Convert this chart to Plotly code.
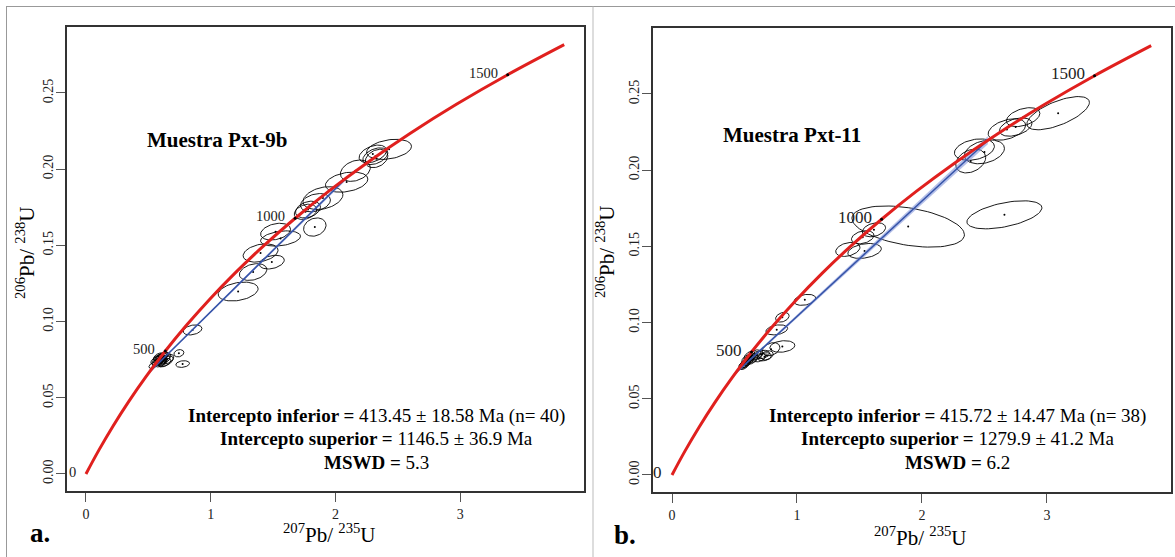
import numpy as np
import plotly.graph_objects as go

W, H = 1175, 557
FONT = "Liberation Serif"

# ---------------- data ----------------
# Concordia curve (age in Ma, 207Pb/235U, 206Pb/238U)
conc_age = [0, 100, 200, 300, 400, 500, 600, 700, 800, 900, 1000, 1100, 1200, 1300, 1400, 1500, 1600]
conc_x = [0.0, 0.1035, 0.2177, 0.3437, 0.4828, 0.6363, 0.8056, 0.9925, 1.1987, 1.4263,
          1.6774, 1.9545, 2.2603, 2.5978, 2.9701, 3.3810, 3.8344]
conc_y = [0.0, 0.01563, 0.03151, 0.04764, 0.06402, 0.08065, 0.09754, 0.11470, 0.13213, 0.14983,
          0.16780, 0.18606, 0.20460, 0.22343, 0.24256, 0.26199, 0.28172]
label_ages = [0, 500, 1000, 1500]

# Discordia intercepts (lower, upper)
a_int_x = [0.5026, 2.0930]
a_int_y = [0.06624, 0.19465]
a_band = [0.0004, 0.0012]
b_int_x = [0.5059, 2.5272]
b_int_y = [0.06661, 0.21963]
b_band = [0.0006, 0.0026]

# Panel a (Pxt-9b) ellipses: centre x, centre y, half-width x, half-height y, rho
a_cx = [2.43, 2.30, 2.32, 2.33, 2.16, 2.09, 1.90, 1.84, 1.78, 1.76,
        1.835, 1.52, 1.56, 1.40, 1.49, 1.34, 1.22, 0.855, 0.745, 0.775,
        0.58, 0.60, 0.62, 0.59, 0.61, 0.57, 0.63, 0.60, 0.64, 0.56,
        0.62, 0.58, 0.65, 0.595, 0.605, 0.615, 0.585, 0.54, 0.63, 0.61]
a_cy = [0.2130, 0.2100, 0.2085, 0.2070, 0.1990, 0.1915, 0.1810, 0.1780, 0.1735, 0.1720,
        0.1620, 0.1590, 0.1545, 0.1450, 0.1390, 0.1325, 0.1197, 0.0945, 0.0792, 0.0721,
        0.0755, 0.0760, 0.0748, 0.0740, 0.0770, 0.0735, 0.0765, 0.0728, 0.0740, 0.0745,
        0.0775, 0.0768, 0.0752, 0.0750, 0.0745, 0.0758, 0.0762, 0.0714, 0.0730, 0.0735]
a_sx = [0.18, 0.11, 0.10, 0.09, 0.12, 0.17, 0.16, 0.12, 0.10, 0.09,
        0.09, 0.12, 0.16, 0.14, 0.10, 0.11, 0.16, 0.075, 0.04, 0.055,
        0.045, 0.050, 0.055, 0.040, 0.045, 0.040, 0.050, 0.045, 0.060, 0.040,
        0.040, 0.040, 0.055, 0.035, 0.035, 0.035, 0.035, 0.035, 0.050, 0.040]
a_sy = [0.0066, 0.0058, 0.0055, 0.0060, 0.0070, 0.0066, 0.0075, 0.0060, 0.0055, 0.0050,
        0.0060, 0.0055, 0.0050, 0.0060, 0.0045, 0.0055, 0.0062, 0.0033, 0.0024, 0.0022,
        0.0030, 0.0032, 0.0030, 0.0027, 0.0028, 0.0025, 0.0030, 0.0026, 0.0034, 0.0026,
        0.0026, 0.0026, 0.0032, 0.0022, 0.0022, 0.0022, 0.0022, 0.0022, 0.0028, 0.0024]
a_rho = [0.3, 0.4, 0.4, 0.3, 0.3, 0.3, 0.3, 0.3, 0.3, 0.3,
         0.2, 0.3, 0.3, 0.3, 0.3, 0.3, 0.3, 0.3, 0.2, 0.2,
         0.5, 0.5, 0.5, 0.5, 0.5, 0.5, 0.5, 0.5, 0.5, 0.5,
         0.5, 0.5, 0.5, 0.5, 0.5, 0.5, 0.5, 0.5, 0.5, 0.5]

# Panel b (Pxt-11) ellipses
b_cx = [3.09, 2.66, 1.89, 2.81, 2.75, 2.68, 2.42, 2.50, 2.39, 1.616,
        1.526, 1.407, 1.541, 1.063, 0.883, 0.838, 0.883, 0.793, 0.72,
        0.74, 0.70, 0.68, 0.66, 0.62, 0.60, 0.61, 0.59, 0.58, 0.62,
        0.605, 0.595, 0.615, 0.63, 0.585, 0.64, 0.57, 0.65, 0.76]
b_cy = [0.2374, 0.1707, 0.1630, 0.2348, 0.2283, 0.2267, 0.2135, 0.2120, 0.2060, 0.1609,
        0.1560, 0.1480, 0.1470, 0.1149, 0.1035, 0.0952, 0.0843, 0.0825, 0.0790,
        0.0775, 0.0770, 0.0785, 0.0790, 0.0780, 0.0760, 0.0745, 0.0735, 0.0725, 0.0760,
        0.0752, 0.0742, 0.0768, 0.0772, 0.0730, 0.0755, 0.0722, 0.0765, 0.0785]
b_sx = [0.25, 0.30, 0.45, 0.134, 0.13, 0.15, 0.16, 0.16, 0.12, 0.093,
        0.09, 0.097, 0.134, 0.087, 0.054, 0.087, 0.10, 0.07, 0.06,
        0.055, 0.05, 0.045, 0.05, 0.045, 0.042, 0.042, 0.042, 0.042, 0.036,
        0.036, 0.036, 0.036, 0.04, 0.034, 0.045, 0.036, 0.04, 0.05]
b_sy = [0.0109, 0.0092, 0.0135, 0.0062, 0.0060, 0.0070, 0.0070, 0.0078, 0.0078, 0.0046,
        0.0043, 0.0046, 0.0049, 0.0036, 0.0032, 0.0033, 0.0038, 0.0043, 0.0028,
        0.0027, 0.0028, 0.0028, 0.0031, 0.0033, 0.0031, 0.0029, 0.0031, 0.0033, 0.0025,
        0.0025, 0.0025, 0.0025, 0.0027, 0.0025, 0.0028, 0.0028, 0.0027, 0.0030]
b_rho = [0.65, 0.5, -0.4, 0.4, 0.4, 0.4, 0.3, 0.3, 0.3, 0.3,
         0.3, 0.3, 0.3, 0.3, 0.3, 0.3, 0.2, 0.3, 0.3,
         0.3, 0.4, 0.4, 0.5, 0.5, 0.5, 0.5, 0.5, 0.5, 0.5,
         0.5, 0.5, 0.5, 0.5, 0.5, 0.5, 0.5, 0.5, 0.3]

a_title = "Muestra Pxt-9b"
b_title = "Muestra Pxt-11"
a_stats = ["<b>Intercepto inferior =</b> 413.45 ± 18.58 Ma (n= 40)",
           "<b>Intercepto superior =</b> 1146.5 ± 36.9 Ma",
           "<b>MSWD =</b> 5.3"]
b_stats = ["<b>Intercepto inferior =</b> 415.72 ± 14.47 Ma (n= 38)",
           "<b>Intercepto superior =</b> 1279.9 ± 41.2 Ma",
           "<b>MSWD =</b> 6.2"]

x_ticks = [0, 1, 2, 3]
y_ticks = [0.0, 0.05, 0.10, 0.15, 0.20, 0.25]
y_ticktext = ["0.00", "0.05", "0.10", "0.15", "0.20", "0.25"]
X_RANGE = [-0.152, 3.993]
Y_RANGE = [-0.0112, 0.2933]


def ellipse_paths(cx, cy, sx, sy, rho):
    t = np.linspace(0, 2 * np.pi, 73)
    xs, ys = [], []
    for x0, y0, ax, ay, r in zip(cx, cy, sx, sy, rho):
        xs += list(x0 + ax * np.cos(t)) + [None]
        ys += list(y0 + ay * (r * np.cos(t) + np.sqrt(1 - r * r) * np.sin(t))) + [None]
    return xs, ys


fig = go.Figure()


def add_panel(xa, ya, cx, cy, sx, sy, rho, ix, iy, band):
    xs, ys = ellipse_paths(cx, cy, sx, sy, rho)
    fig.add_trace(go.Scatter(x=xs, y=ys, mode="lines", line=dict(color="black", width=0.9),
                             xaxis=xa, yaxis=ya, hoverinfo="skip", showlegend=False))
    fig.add_trace(go.Scatter(x=cx, y=cy, mode="markers", marker=dict(color="black", size=2),
                             xaxis=xa, yaxis=ya, hoverinfo="skip", showlegend=False))
    # discordia error band
    bx = [ix[0], ix[1], ix[1], ix[0], ix[0]]
    by = [iy[0] - band[0], iy[1] - band[1], iy[1] + band[1], iy[0] + band[0], iy[0] - band[0]]
    fig.add_trace(go.Scatter(x=bx, y=by, mode="lines", fill="toself", fillcolor="rgba(120,140,215,0.55)",
                             line=dict(width=0), xaxis=xa, yaxis=ya, hoverinfo="skip", showlegend=False))
    fig.add_trace(go.Scatter(x=ix, y=iy, mode="lines", line=dict(color="#3553a8", width=1.5),
                             xaxis=xa, yaxis=ya, hoverinfo="skip", showlegend=False))
    fig.add_trace(go.Scatter(x=conc_x, y=conc_y, mode="lines", line=dict(color="#e0201e", width=3, shape="spline"),
                             xaxis=xa, yaxis=ya, hoverinfo="skip", showlegend=False))
    idx = [conc_age.index(a) for a in label_ages]
    fig.add_trace(go.Scatter(x=[conc_x[i] for i in idx[1:]], y=[conc_y[i] for i in idx[1:]], mode="markers",
                             marker=dict(color="black", size=3), xaxis=xa, yaxis=ya,
                             hoverinfo="skip", showlegend=False))
    return idx


idx = add_panel("x", "y", a_cx, a_cy, a_sx, a_sy, a_rho, a_int_x, a_int_y, a_band)
add_panel("x2", "y2", b_cx, b_cy, b_sx, b_sy, b_rho, b_int_x, b_int_y, b_band)

ann = []
# concordia age labels
for xr, yr, fs in (("x", "y", 14.5), ("x2", "y2", 17)):
    for i, a in zip(idx, label_ages):
        ann.append(dict(x=conc_x[i], y=conc_y[i], xref=xr, yref=yr, text=str(a), showarrow=False,
                        xanchor="right", yanchor="middle", xshift=-8, yshift=2,
                        font=dict(family=FONT, size=fs, color="#222")))

# titles
ann.append(dict(x=217 / W, y=1 - 140 / H, xref="paper", yref="paper", text="<b>%s</b>" % a_title,
                showarrow=False, xanchor="center", yanchor="middle", font=dict(family=FONT, size=21, color="black")))
ann.append(dict(x=792 / W, y=1 - 135 / H, xref="paper", yref="paper", text="<b>%s</b>" % b_title,
                showarrow=False, xanchor="center", yanchor="middle", font=dict(family=FONT, size=21, color="black")))
# stats
for cxp, lines in ((376, a_stats), (957, b_stats)):
    for k, s in enumerate(lines):
        ann.append(dict(x=cxp / W, y=1 - (416 + 23 * k) / H, xref="paper", yref="paper", text=s,
                        showarrow=False, xanchor="center", yanchor="middle",
                        font=dict(family=FONT, size=19, color="black")))
# axis titles
xt = "<sup>207</sup>Pb/ <sup>235</sup>U"
yt = "<sup>206</sup>Pb/ <sup>238</sup>U"
for xp, yp in ((329, 533), (920, 536)):
    ann.append(dict(x=xp / W, y=1 - yp / H, xref="paper", yref="paper", text=xt, showarrow=False,
                    xanchor="center", yanchor="middle", font=dict(family=FONT, size=21, color="black")))
for xp, yp in ((25, 253), (605, 252)):
    ann.append(dict(x=xp / W, y=1 - yp / H, xref="paper", yref="paper", text=yt, showarrow=False,
                    textangle=-90, xanchor="center", yanchor="middle",
                    font=dict(family=FONT, size=21, color="black")))
# panel letters
ann.append(dict(x=40 / W, y=1 - 533 / H, xref="paper", yref="paper", text="<b>a.</b>", showarrow=False,
                xanchor="center", yanchor="middle", font=dict(family=FONT, size=27, color="black")))
ann.append(dict(x=625 / W, y=1 - 535 / H, xref="paper", yref="paper", text="<b>b.</b>", showarrow=False,
                xanchor="center", yanchor="middle", font=dict(family=FONT, size=27, color="black")))

axis_common = dict(showgrid=False, zeroline=False, showline=True, mirror=True, linecolor="#333",
                   linewidth=1.5, ticks="outside", ticklen=9, tickcolor="#555", tickwidth=1,
                   tickfont=dict(family=FONT, size=14, color="#222"))

fig.update_layout(
    width=W, height=H, margin=dict(l=0, r=0, t=0, b=0),
    paper_bgcolor="white", plot_bgcolor="white", showlegend=False,
    xaxis=dict(domain=[67 / W, 584 / W], range=X_RANGE, tickvals=x_ticks, anchor="y",
               ticklabelstandoff=0, **axis_common),
    yaxis=dict(domain=[1 - 491 / H, 1 - 27 / H], range=Y_RANGE, tickvals=y_ticks, ticktext=y_ticktext,
               tickangle=-90, anchor="x", ticklabelstandoff=-2, **axis_common),
    xaxis2=dict(domain=[653 / W, 1171 / W], range=X_RANGE, tickvals=x_ticks, anchor="y2",
                ticklabelstandoff=0, **axis_common),
    yaxis2=dict(domain=[1 - 492 / H, 1 - 28 / H], range=Y_RANGE, tickvals=y_ticks, ticktext=y_ticktext,
                tickangle=-90, anchor="x2", ticklabelstandoff=-2, **axis_common),
    annotations=ann,
    shapes=[
        dict(type="line", xref="paper", yref="paper", x0=6 / W, x1=1, y0=1 - 6.5 / H, y1=1 - 6.5 / H,
             line=dict(color="#999", width=1)),
        dict(type="line", xref="paper", yref="paper", x0=6.5 / W, x1=6.5 / W, y0=0, y1=1 - 6.5 / H,
             line=dict(color="#999", width=1)),
        dict(type="line", xref="paper", yref="paper", x0=593 / W, x1=593 / W, y0=0, y1=1 - 6.5 / H,
             line=dict(color="#bbb", width=1)),
    ],
)

fig.write_html("out.html")
